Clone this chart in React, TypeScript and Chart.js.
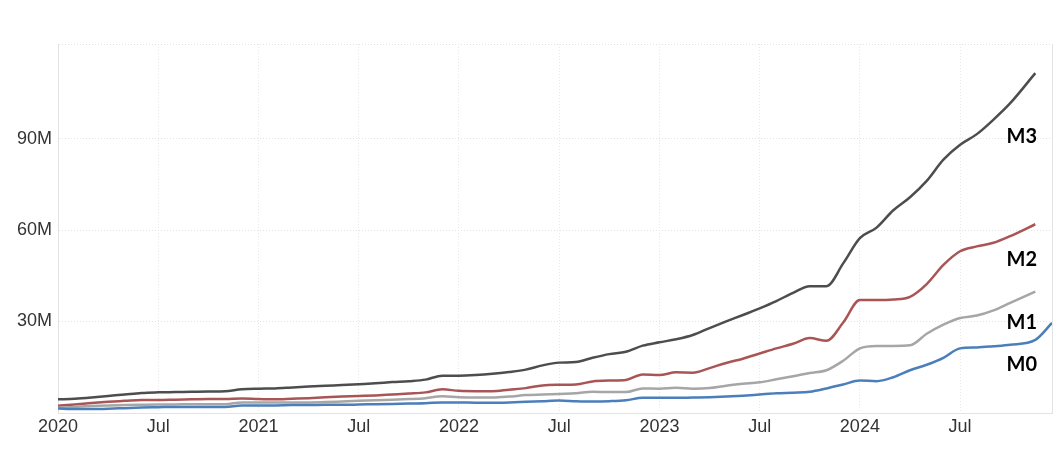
import React, { useEffect, useRef } from "react";
import { Chart, registerables } from "chart.js";

Chart.register(...registerables);

// Month index (0 = Jan 2020)
const months = [
  0, 1, 2, 3, 4, 5, 6, 7, 8, 9, 10, 11, 12, 13, 14, 15, 16, 17, 18, 19,
  20, 21, 22, 23, 24, 25, 26, 27, 28, 29, 30, 31, 32, 33, 34, 35, 36, 37, 38, 39,
  40, 41, 42, 43, 44, 45, 46, 47, 48, 49, 50, 51, 52, 53, 54, 55, 56, 57, 58.5,
];
const monthsM0 = [...months, 59.5];

const M3 = [
  4.2, 4.4, 4.8, 5.3, 5.8, 6.3, 6.5, 6.6, 6.7, 6.8,
  6.9, 7.5, 7.7, 7.8, 8.1, 8.4, 8.7, 8.9, 9.2, 9.5,
  9.9, 10.2, 10.7, 12.0, 12.0, 12.2, 12.6, 13.2, 14.0, 15.4,
  16.3, 16.5, 17.9, 19.1, 19.9, 21.9, 23.0, 24.0, 25.4, 27.7,
  29.9, 32.0, 34.2, 36.6, 39.3, 41.5, 41.5, 49.0, 57.3, 60.8,
  66.5, 70.8, 76.2, 83.2, 88.1, 91.6, 96.4, 101.8, 111.7,
];
const M2 = [
  2.1, 2.5, 3.0, 3.4, 3.7, 4.0, 4.0, 4.1, 4.2, 4.3,
  4.3, 4.5, 4.3, 4.2, 4.4, 4.6, 4.9, 5.1, 5.3, 5.5,
  5.8, 6.1, 6.5, 7.5, 7.0, 6.9, 6.9, 7.4, 7.9, 8.8,
  9.0, 9.1, 10.1, 10.4, 10.6, 12.4, 12.2, 13.1, 13.0, 14.5,
  16.2, 17.6, 19.3, 21.0, 22.5, 24.4, 23.5, 29.5, 36.9, 36.9,
  37.1, 38.0, 42.2, 48.5, 53.0, 54.6, 55.8, 58.0, 61.9,
];
const M1 = [
  1.4, 1.7, 2.0, 2.2, 2.3, 2.4, 2.5, 2.5, 2.6, 2.6,
  2.6, 3.2, 3.2, 3.2, 3.2, 3.2, 3.3, 3.5, 3.7, 3.9,
  4.1, 4.3, 4.6, 5.2, 4.9, 4.8, 4.8, 5.1, 5.6, 5.8,
  6.0, 6.2, 6.7, 6.6, 6.6, 7.8, 7.7, 8.0, 7.7, 7.9,
  8.7, 9.3, 9.8, 10.8, 11.8, 12.9, 13.8, 16.9, 21.0, 21.8,
  21.8, 22.0, 25.8, 28.8, 31.0, 31.8, 33.5, 36.0, 39.7,
];
const M0 = [
  1.2, 1.0, 1.0, 1.1, 1.3, 1.5, 1.6, 1.7, 1.7, 1.7,
  1.7, 2.2, 2.2, 2.2, 2.3, 2.3, 2.4, 2.4, 2.5, 2.6,
  2.7, 2.8, 2.9, 3.2, 3.2, 3.1, 3.1, 3.2, 3.4, 3.6,
  3.8, 3.6, 3.5, 3.6, 3.9, 4.7, 4.7, 4.7, 4.8, 4.9,
  5.1, 5.4, 5.8, 6.2, 6.4, 6.7, 7.8, 9.1, 10.4, 10.2,
  11.5, 13.8, 15.6, 17.9, 21.0, 21.3, 21.7, 22.2, 23.8, 29.4,
];

const xTickValues = [0, 6, 12, 18, 24, 30, 36, 42, 48, 54];
const xTickLabels = ["2020", "Jul", "2021", "Jul", "2022", "Jul", "2023", "Jul", "2024", "Jul"];
const yTickValues = [-0.3, 30, 60, 90, 121.3];
const yTickLabels = ["", "30M", "60M", "90M", ""];

const seriesNames = ["M0", "M1", "M2", "M3"];
const seriesColors = ["#4b7fbb", "#a6a6a6", "#a95555", "#4d4d4d"];
// label anchors (value on y axis where each name sits)
const labelValues = [15.8, 29.6, 50.4, 90.7];

const toPoints = (xs: number[], ys: number[]) => ys.map((y, i) => ({ x: xs[i], y }));

export default function App() {
  const ref = useRef<HTMLCanvasElement | null>(null);

  useEffect(() => {
    if (!ref.current) return;
    const labelPlugin = {
      id: "seriesLabels",
      beforeDatasetsDraw(chart: any) {
        const { ctx, chartArea } = chart;
        ctx.save();
        ctx.strokeStyle = "#e3e3e3";
        ctx.lineWidth = 1;
        ctx.beginPath();
        ctx.moveTo(Math.round(chartArea.right) + 0.5, chartArea.top);
        ctx.lineTo(Math.round(chartArea.right) + 0.5, chartArea.bottom);
        ctx.stroke();
        ctx.restore();
      },
      afterDatasetsDraw(chart: any) {
        const { ctx, chartArea, scales } = chart;
        ctx.save();
        ctx.font = "bold 20px Lato";
        ctx.fillStyle = "#000";
        ctx.textAlign = "right";
        ctx.textBaseline = "middle";
        seriesNames.forEach((name, i) => {
          const y = scales.y.getPixelForValue(labelValues[i]);
          ctx.fillText(name, chartArea.right - 15, y);
        });
        ctx.restore();
      },
    };

    const datasets = [
      { label: "M0", data: toPoints(monthsM0, M0), borderColor: seriesColors[0] },
      { label: "M1", data: toPoints(months, M1), borderColor: seriesColors[1] },
      { label: "M2", data: toPoints(months, M2), borderColor: seriesColors[2] },
      { label: "M3", data: toPoints(months, M3), borderColor: seriesColors[3] },
    ].map((d) => ({
      ...d,
      borderWidth: 2.5,
      pointRadius: 0,
      fill: false,
      cubicInterpolationMode: "monotone" as const,
    }));

    const chart = new Chart(ref.current, {
      type: "line",
      data: { datasets },
      plugins: [labelPlugin],
      options: {
        animation: false,
        responsive: false,
        maintainAspectRatio: false,
        layout: { padding: { left: 0, right: 11, top: 44, bottom: 0 } },
        plugins: { legend: { display: false }, tooltip: { enabled: false } },
        scales: {
          x: {
            type: "linear",
            min: 0,
            max: 59.5,
            afterBuildTicks: (s: any) => {
              s.ticks = xTickValues.map((v) => ({ value: v }));
            },
            afterFit: (s: any) => {
              s.height = 57;
            },
            ticks: {
              autoSkip: false,
              maxRotation: 0,
              padding: 3,
              color: "#333",
              font: { family: "Liberation Sans", size: 18 },
              callback: (v: any) => {
                const i = xTickValues.indexOf(Number(v));
                return i >= 0 ? xTickLabels[i] : "";
              },
            },
            grid: {
              color: "#e8e8e8",
              lineWidth: 1,
              drawTicks: false,
            },
            border: { display: true, color: "#e3e3e3", width: 1, dash: [1, 2] },
          },
          y: {
            min: -0.3,
            max: 121.3,
            afterBuildTicks: (s: any) => {
              s.ticks = yTickValues.map((v) => ({ value: v }));
            },
            afterFit: (s: any) => {
              s.width = 58;
            },
            ticks: {
              padding: 6,
              color: "#333",
              font: { family: "Liberation Sans", size: 18 },
              callback: (v: any) => {
                const i = yTickValues.indexOf(Number(v));
                return i >= 0 ? yTickLabels[i] : "";
              },
            },
            grid: {
              color: "#e3e3e3",
              lineWidth: 1,
              drawTicks: false,
            },
            border: { display: true, color: "#e3e3e3", width: 1, dash: [1, 2] },
          },
        },
      },
    });
    return () => chart.destroy();
  }, []);

  return (
    <div style={{ position: "fixed", left: 0, top: 0, width: 1063, height: 470, background: "#fff" }}>
      <canvas ref={ref} width={1063} height={470} style={{ width: 1063, height: 470 }} />
    </div>
  );
}
